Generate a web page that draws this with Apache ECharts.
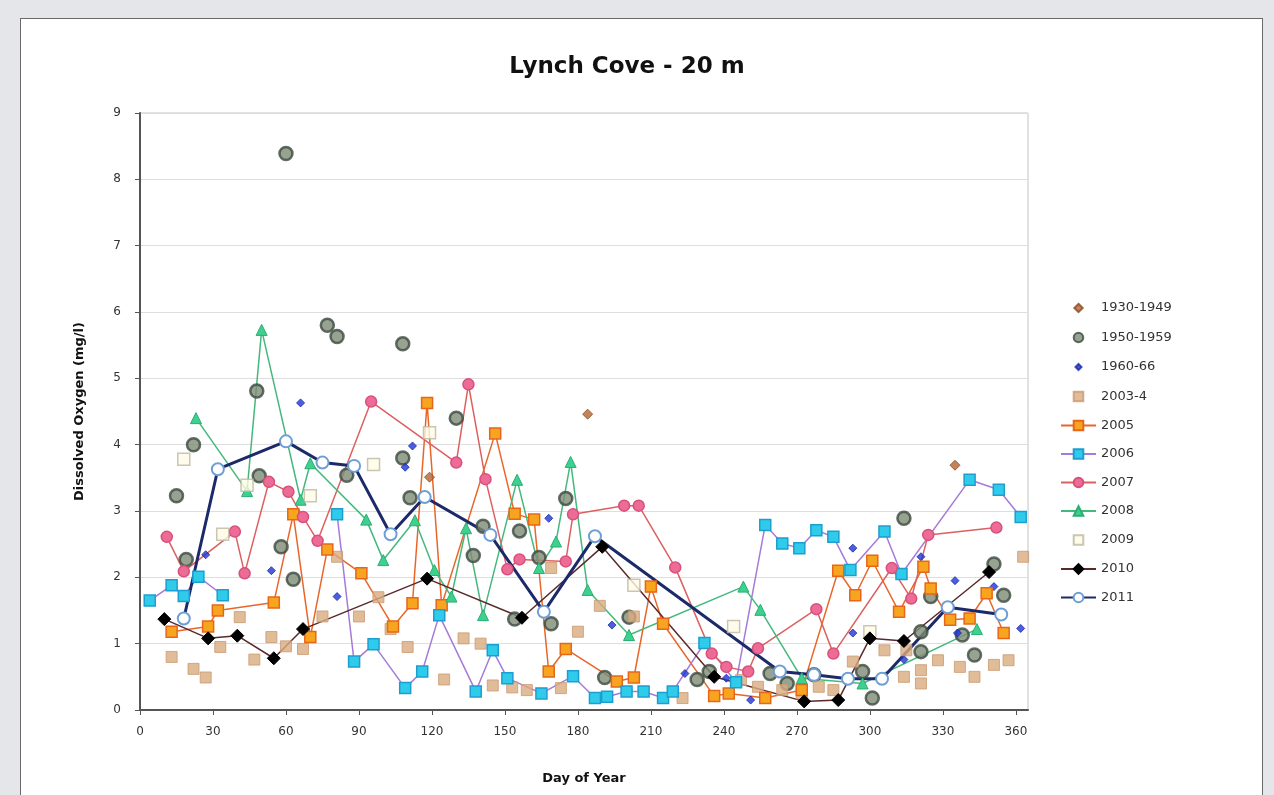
<!DOCTYPE html>
<html>
<head>
<meta charset="utf-8">
<script src="https://cdn.jsdelivr.net/npm/echarts@6/dist/echarts.min.js"></script>
<style>
  html, body { margin: 0; padding: 0; width: 1274px; height: 795px; background: #e4e6e9; overflow: hidden; }
  #panel { position: absolute; left: 20px; top: 18px; width: 1241px; height: 800px; background: #ffffff; border: 1px solid #6a6a6a; }
  #chart { position: absolute; left: 0; top: 0; width: 1274px; height: 795px; }
</style>
</head>
<body>
<div id="panel"></div>
<div id="chart"></div>
<script>
// ---- Data: [day of year, dissolved oxygen mg/l] ----
const xTicks = [0, 30, 60, 90, 120, 150, 180, 210, 240, 270, 300, 330, 360];
const yTicks = [0, 1, 2, 3, 4, 5, 6, 7, 8, 9];
const seriesNames = ['1930-1949','1950-1959','1960-66','2003-4','2005','2006','2007','2008','2009','2010','2011'];

const s1930 = [[119,3.51],[184,4.46],[335,3.69]];

const s1950 = [[15,3.23],[19,2.27],[22,4.0],[48,4.81],[49,3.53],[58,2.46],[60,8.39],[63,1.97],[77,5.8],[81,5.63],[85,3.54],[108,5.52],[108,3.8],[111,3.2],[130,4.4],[137,2.33],[141,2.77],[154,1.37],[156,2.7],[164,2.3],[169,1.3],[175,3.19],[191,0.49],[201,1.4],[229,0.46],[234,0.58],[259,0.55],[266,0.4],[277,0.53],[297,0.58],[301,0.18],[314,2.89],[321,0.88],[321,1.18],[325,1.71],[338,1.13],[343,0.83],[351,2.2],[355,1.73]];

const s1960 = [[27,2.34],[54,2.1],[66,4.63],[81,1.71],[109,3.66],[112,3.98],[168,2.89],[194,1.28],[224,0.55],[241,0.48],[251,0.15],[293,2.44],[293,1.16],[314,0.76],[321,2.31],[335,1.95],[336,1.16],[351,1.86],[362,1.23]];

const s2003 = [[13,0.8],[22,0.62],[27,0.49],[33,0.95],[41,1.4],[47,0.76],[54,1.1],[60,0.96],[67,0.92],[75,1.41],[81,2.31],[90,1.41],[98,1.7],[103,1.22],[110,0.95],[125,0.46],[133,1.08],[140,1.0],[145,0.37],[153,0.34],[159,0.3],[169,2.14],[173,0.33],[180,1.18],[189,1.57],[203,1.41],[223,0.18],[247,0.45],[254,0.35],[264,0.3],[272,0.25],[279,0.35],[285,0.3],[293,0.73],[306,0.9],[314,0.5],[315,0.9],[321,0.6],[321,0.4],[328,0.75],[337,0.65],[343,0.5],[351,0.68],[357,0.75],[363,2.31]];

const s2005 = [[13,1.18],[28,1.26],[32,1.5],[55,1.62],[63,2.95],[70,1.1],[77,2.42],[91,2.06],[104,1.26],[112,1.61],[118,4.63],[124,1.58],[146,4.17],[154,2.96],[162,2.87],[168,0.58],[175,0.92],[196,0.43],[203,0.49],[210,1.86],[215,1.3],[236,0.21],[242,0.25],[257,0.18],[272,0.3],[287,2.1],[294,1.73],[301,2.25],[312,1.48],[322,2.16],[325,1.83],[333,1.36],[341,1.38],[348,1.76],[355,1.16]];

const s2006 = [[4,1.65],[13,1.88],[18,1.72],[24,2.01],[34,1.73],[57,'-'],[81,2.95],[88,0.73],[96,0.99],[109,0.33],[116,0.58],[123,1.43],[138,0.28],[145,0.9],[151,0.48],[165,0.25],[178,0.51],[187,0.18],[192,0.2],[200,0.28],[207,0.28],[215,0.18],[219,0.28],[232,1.01],[245,0.42],[257,2.79],[264,2.51],[271,2.44],[278,2.71],[285,2.61],[292,2.11],[306,2.69],[313,2.05],[341,3.47],[353,3.32],[362,2.91]];

const s2007 = [[11,2.61],[18,2.09],[39,2.69],[43,2.06],[53,3.44],[61,3.29],[67,2.91],[73,2.55],[95,4.65],[130,3.73],[135,4.91],[142,3.48],[151,2.12],[156,2.27],[175,2.24],[178,2.95],[199,3.08],[205,3.08],[220,2.15],[235,0.85],[241,0.65],[250,0.58],[254,0.93],[278,1.52],[285,0.85],[309,2.14],[317,1.68],[324,2.64],[352,2.75]];

const s2008 = [[23,4.4],[44,3.3],[50,5.73],[66,3.17],[70,3.72],[93,2.87],[100,2.26],[113,2.86],[121,2.11],[128,1.71],[134,2.74],[141,1.43],[155,3.47],[164,2.14],[171,2.54],[177,3.74],[184,1.81],[201,1.13],[248,1.86],[255,1.51],[272,0.48],[297,0.4],[344,1.22]];

const s2009 = [[18,3.78],[34,2.65],[44,3.39],[70,3.23],[96,3.70],[119,4.18],[203,1.88],[244,1.26],[300,1.18]];

const s2010 = [[10,1.37],[28,1.08],[40,1.12],[55,0.78],[67,1.22],[118,1.98],[157,1.39],[190,2.46],[236,0.5],[273,0.13],[287,0.15],[300,1.08],[314,1.04],[349,2.08]];

const s2011 = [[18,1.38],[32,3.63],[60,4.05],[75,3.73],[88,3.68],[103,2.65],[117,3.21],[144,2.64],[166,1.48],[187,2.62],[263,0.58],[277,0.53],[291,0.47],[305,0.47],[332,1.55],[354,1.44]];

const FONT = 'DejaVu Sans';

// legend-only icons (square bounding boxes keep the aspect ratio)
const ICON_DIAMOND_SM = 'path://M0,0M10,10M5,2.5L7.5,5L5,7.5L2.5,5Z';
const ICON_DIAMOND = 'path://M0,0M10,10M5,1.5L8.5,5L5,8.5L1.5,5Z';
const ICON_CIRCLE = 'path://M0,0M10,10M5,1A4,4,0,1,1,4.99,1Z';
const ICON_SQUARE = 'path://M0,0M10,10M1,1H9V9H1Z';

function scatter(name, data, symbol, size, fill, border, bw) {
  return { name, type: 'scatter', data, symbol, symbolSize: size,
    itemStyle: { color: fill, borderColor: border, borderWidth: bw }, z: 2 };
}
function line(name, data, symbol, size, fill, border, bw, lineColor, lw) {
  return { name, type: 'line', data, symbol, symbolSize: size, showSymbol: true,
    connectNulls: false,
    lineStyle: { color: lineColor, width: lw },
    itemStyle: { color: fill, borderColor: border, borderWidth: bw }, z: 2 };
}

const chart = echarts.init(document.getElementById('chart'), null, { renderer: 'canvas' });
chart.setOption({
  backgroundColor: 'transparent',
  animation: false,
  title: {
    text: 'Lynch Cove - 20 m', left: 622, top: 51, textAlign: 'center',
    textStyle: { fontFamily: FONT, fontWeight: 'bold', fontSize: 23, color: '#111' }
  },
  grid: { left: 140, right: 246, top: 113, bottom: 85, show: true, borderColor: '#c4c4c4', borderWidth: 1, backgroundColor: '#fff' },
  legend: {
    orient: 'vertical', left: 1060, top: 301, padding: 0, itemWidth: 35, itemHeight: 12, itemGap: 15.5,
    textStyle: { fontFamily: FONT, fontSize: 13, color: '#333' },
    data: [
      { name: seriesNames[0], icon: ICON_DIAMOND },
      { name: seriesNames[1], icon: ICON_CIRCLE },
      { name: seriesNames[2], icon: ICON_DIAMOND_SM },
      { name: seriesNames[3], icon: ICON_SQUARE },
      seriesNames[4], seriesNames[5], seriesNames[6], seriesNames[7],
      { name: seriesNames[8], icon: ICON_SQUARE },
      seriesNames[9], seriesNames[10]
    ]
  },
  xAxis: {
    type: 'value', min: 0, max: 365, interval: 30,
    name: 'Day of Year', nameLocation: 'middle', nameGap: 62,
    nameTextStyle: { fontFamily: FONT, fontWeight: 'bold', fontSize: 13, color: '#111' },
    axisLine: { show: true, onZero: false, lineStyle: { color: '#555', width: 2 } },
    axisTick: { show: true, length: 5, lineStyle: { color: '#555' } },
    axisLabel: { showMaxLabel: false, fontFamily: FONT, fontSize: 12, color: '#333', margin: 16 },
    splitLine: { show: false }
  },
  yAxis: {
    type: 'value', min: 0, max: 9, interval: 1,
    name: 'Dissolved Oxygen (mg/l)', nameLocation: 'middle', nameGap: 54,
    nameTextStyle: { fontFamily: FONT, fontWeight: 'bold', fontSize: 13, color: '#111' },
    axisLine: { show: true, lineStyle: { color: '#555', width: 2 } },
    axisTick: { show: true, length: 5, lineStyle: { color: '#555' } },
    axisLabel: { fontFamily: FONT, fontSize: 12, color: '#333', margin: 19 },
    splitLine: { show: true, lineStyle: { color: '#dedede', width: 1 } }
  },
  series: [
    scatter(seriesNames[0], s1930, 'diamond', 10, '#b5652f', '#8a4a22', 1),
    scatter(seriesNames[1], s1950, 'circle', 13, '#7d8c74', '#3c4a40', 2.5),
    scatter(seriesNames[2], s1960, 'diamond', 8, '#1f35d6', '#1828a8', 1),
    scatter(seriesNames[3], s2003, 'rect', 11, '#d9ab80', '#c99a70', 1),
    line(seriesNames[4], s2005, 'rect', 11, '#f7a51e', '#e8661a', 1.5, '#e8662a', 1.5),
    line(seriesNames[5], s2006, 'rect', 11, '#2fcbea', '#1c9fd0', 1.5, '#a57ad8', 1.5),
    line(seriesNames[6], s2007, 'circle', 11, '#ec6c97', '#d8507a', 1.5, '#dc6060', 1.5),
    line(seriesNames[7], s2008, 'triangle', 11, '#3dd08e', '#2aae72', 1, '#45b87e', 1.5),
    scatter(seriesNames[8], s2009, 'rect', 12, '#fffbe6', '#bdb8a0', 1.5),
    line(seriesNames[9], s2010, 'diamond', 13, '#000000', '#000000', 1, '#5a2a2a', 1.5),
    line(seriesNames[10], s2011, 'circle', 12, '#ffffff', '#6d9fd6', 2, '#1c2a6a', 3)
  ]
});
</script>
</body>
</html>
